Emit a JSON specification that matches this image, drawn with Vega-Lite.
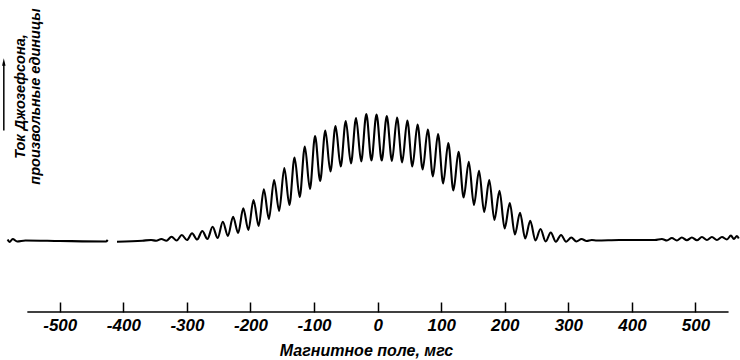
{
  "$schema": "https://vega.github.io/schema/vega-lite/v6.json",
  "width": 740,
  "height": 312,
  "autosize": {"type": "none"},
  "padding": {"left": 0, "top": 0, "right": 0, "bottom": 48},
  "background": "white",
  "config": {"view": {"stroke": null}},
  "data": {"values": [
    {"B": -582, "I": 0.1, "seg": "a"}, {"B": -579, "I": -0.15, "seg": "a"}, {"B": -574, "I": 0.15, "seg": "a"}, {"B": -567, "I": -0.1, "seg": "a"},
    {"B": -554, "I": 0, "seg": "a"}, {"B": -500, "I": -0.05, "seg": "a"}, {"B": -427.5, "I": -0.1, "seg": "a"}, {"B": -424.5, "I": 0.05, "seg": "a"},
    {"B": -410, "I": -0.12, "seg": "b"}, {"B": -370, "I": -0.02, "seg": "b"}, {"B": -356.3, "I": 0.05, "seg": "b"}, {"B": -348.3, "I": -0.02, "seg": "b"},
    {"B": -340.2, "I": 0.15, "seg": "b"}, {"B": -332.2, "I": -0.02, "seg": "b"}, {"B": -324.2, "I": 0.38, "seg": "b"}, {"B": -316.1, "I": 0, "seg": "b"},
    {"B": -308.0, "I": 0.55, "seg": "b"}, {"B": -300.0, "I": 0.05, "seg": "b"}, {"B": -291.9, "I": 0.72, "seg": "b"}, {"B": -283.9, "I": 0.1, "seg": "b"},
    {"B": -275.8, "I": 0.95, "seg": "b"}, {"B": -267.7, "I": 0.15, "seg": "b"}, {"B": -259.6, "I": 1.38, "seg": "b"}, {"B": -251.6, "I": 0.25, "seg": "b"},
    {"B": -243.5, "I": 1.88, "seg": "b"}, {"B": -235.5, "I": 0.45, "seg": "b"}, {"B": -227.4, "I": 2.38, "seg": "b"}, {"B": -219.4, "I": 0.75, "seg": "b"},
    {"B": -211.3, "I": 3.22, "seg": "b"}, {"B": -203.3, "I": 1.05, "seg": "b"}, {"B": -195.2, "I": 4.05, "seg": "b"}, {"B": -187.1, "I": 1.45, "seg": "b"},
    {"B": -179.0, "I": 5.12, "seg": "b"}, {"B": -171.0, "I": 2.15, "seg": "b"}, {"B": -162.9, "I": 6.05, "seg": "b"}, {"B": -154.9, "I": 2.95, "seg": "b"},
    {"B": -146.8, "I": 7.25, "seg": "b"}, {"B": -138.8, "I": 3.55, "seg": "b"}, {"B": -130.7, "I": 8.3, "seg": "b"}, {"B": -122.6, "I": 4.35, "seg": "b"},
    {"B": -114.5, "I": 9.4, "seg": "b"}, {"B": -106.5, "I": 5.15, "seg": "b"}, {"B": -98.4, "I": 10.45, "seg": "b"}, {"B": -90.4, "I": 5.95, "seg": "b"},
    {"B": -82.3, "I": 11.0, "seg": "b"}, {"B": -74.3, "I": 6.9, "seg": "b"}, {"B": -66.2, "I": 11.45, "seg": "b"}, {"B": -58.1, "I": 7.4, "seg": "b"},
    {"B": -50.1, "I": 11.95, "seg": "b"}, {"B": -42.0, "I": 7.7, "seg": "b"}, {"B": -33.9, "I": 12.25, "seg": "b"}, {"B": -25.9, "I": 7.9, "seg": "b"},
    {"B": -17.8, "I": 12.65, "seg": "b"}, {"B": -9.8, "I": 8.0, "seg": "b"}, {"B": -1.7, "I": 12.6, "seg": "b"}, {"B": 6.4, "I": 8.0, "seg": "b"},
    {"B": 14.4, "I": 12.45, "seg": "b"}, {"B": 22.5, "I": 7.95, "seg": "b"}, {"B": 30.5, "I": 12.3, "seg": "b"}, {"B": 38.6, "I": 7.8, "seg": "b"},
    {"B": 46.7, "I": 12.0, "seg": "b"}, {"B": 54.7, "I": 7.4, "seg": "b"}, {"B": 62.8, "I": 11.6, "seg": "b"}, {"B": 70.9, "I": 7.1, "seg": "b"},
    {"B": 78.9, "I": 11.1, "seg": "b"}, {"B": 87.0, "I": 6.4, "seg": "b"}, {"B": 95.0, "I": 10.65, "seg": "b"}, {"B": 103.1, "I": 5.7, "seg": "b"},
    {"B": 111.1, "I": 9.75, "seg": "b"}, {"B": 119.2, "I": 5.0, "seg": "b"}, {"B": 127.3, "I": 8.88, "seg": "b"}, {"B": 135.3, "I": 4.3, "seg": "b"},
    {"B": 143.4, "I": 7.88, "seg": "b"}, {"B": 151.5, "I": 3.55, "seg": "b"}, {"B": 159.5, "I": 6.98, "seg": "b"}, {"B": 167.6, "I": 2.85, "seg": "b"},
    {"B": 175.6, "I": 6.05, "seg": "b"}, {"B": 183.7, "I": 2.05, "seg": "b"}, {"B": 191.7, "I": 4.98, "seg": "b"}, {"B": 199.8, "I": 1.2, "seg": "b"},
    {"B": 207.9, "I": 3.75, "seg": "b"}, {"B": 215.9, "I": 0.6, "seg": "b"}, {"B": 224.0, "I": 2.78, "seg": "b"}, {"B": 232.1, "I": 0.2, "seg": "b"},
    {"B": 240.1, "I": 1.98, "seg": "b"}, {"B": 248.2, "I": 0.0, "seg": "b"}, {"B": 256.2, "I": 1.15, "seg": "b"}, {"B": 264.3, "I": -0.1, "seg": "b"},
    {"B": 272.3, "I": 0.8, "seg": "b"}, {"B": 280.4, "I": -0.12, "seg": "b"}, {"B": 288.5, "I": 0.55, "seg": "b"}, {"B": 296.5, "I": -0.12, "seg": "b"},
    {"B": 304.6, "I": 0.3, "seg": "b"}, {"B": 312.7, "I": -0.1, "seg": "b"}, {"B": 320.7, "I": 0.15, "seg": "b"}, {"B": 328.8, "I": -0.05, "seg": "b"},
    {"B": 336.8, "I": 0.05, "seg": "b"}, {"B": 345, "I": 0, "seg": "b"}, {"B": 380, "I": 0.05, "seg": "b"}, {"B": 428.3, "I": 0.05, "seg": "b"},
    {"B": 436.1, "I": 0.05, "seg": "b"}, {"B": 447.1, "I": 0.15, "seg": "b"}, {"B": 455, "I": 0, "seg": "b"}, {"B": 462.8, "I": 0.25, "seg": "b"},
    {"B": 470.7, "I": 0, "seg": "b"}, {"B": 478.5, "I": 0.3, "seg": "b"}, {"B": 486.4, "I": 0.02, "seg": "b"}, {"B": 494.3, "I": 0.3, "seg": "b"},
    {"B": 502.2, "I": 0.02, "seg": "b"}, {"B": 510.1, "I": 0.35, "seg": "b"}, {"B": 518, "I": 0.05, "seg": "b"}, {"B": 525.8, "I": 0.35, "seg": "b"},
    {"B": 533.7, "I": 0.05, "seg": "b"}, {"B": 541.6, "I": 0.35, "seg": "b"}, {"B": 549.4, "I": 0.1, "seg": "b"}, {"B": 555.7, "I": 0.5, "seg": "b"},
    {"B": 560.4, "I": 0.15, "seg": "b"}, {"B": 565.1, "I": 0.45, "seg": "b"}, {"B": 568, "I": 0.2, "seg": "b"}
  ]},
  "layer": [
    {
      "mark": {"type": "line", "interpolate": "monotone", "color": "black", "strokeWidth": 2.1},
      "encoding": {
        "x": {
          "field": "B", "type": "quantitative",
          "scale": {"domain": [-594, 570], "nice": false, "zero": false},
          "axis": {
            "orient": "bottom", "domain": false, "grid": false,
            "values": [-500, -400, -300, -200, -100, 0, 100, 200, 300, 400, 500],
            "tickSize": -10, "tickWidth": 1.5, "tickColor": "black",
            "labelPadding": 15,
            "labelExpr": "datum.value < 0 ? '-' + (-datum.value) : '' + datum.value",
            "labelFont": "Liberation Sans Narrow, Liberation Sans, sans-serif", "labelFontSize": 17, "labelFontStyle": "italic", "labelFontWeight": "bold", "labelColor": "black",
            "title": "Магнитное поле, мгс",
            "titleFont": "Liberation Sans, sans-serif", "titleFontSize": 16, "titleFontStyle": "italic", "titleFontWeight": "bold", "titleColor": "black",
            "titleX": 366, "titleY": 38, "titleAlign": "center", "titleBaseline": "middle"
          }
        },
        "y": {
          "field": "I", "type": "quantitative",
          "scale": {"domain": [-7.15, 24.05], "nice": false, "zero": false},
          "axis": {
            "domain": false, "ticks": false, "labels": false, "grid": false,
            "title": ["Ток Джозефсона,", "произвольные единицы"],
            "titleX": 20, "titleY": 96, "titleAngle": -90, "titleAlign": "center", "titleBaseline": "middle",
            "titleFont": "Liberation Sans, sans-serif", "titleFontSize": 14.5, "titleFontStyle": "italic", "titleFontWeight": "bold", "titleColor": "black", "titleLineHeight": 15
          }
        },
        "detail": {"field": "seg"}
      }
    },
    {
      "data": {"values": [{}]},
      "mark": {"type": "rule", "color": "black", "strokeWidth": 1.5},
      "encoding": {"x": {"datum": -551}, "x2": {"datum": 552}, "y": {"datum": -7.15}}
    },
    {
      "data": {"values": [{}]},
      "mark": {"type": "rule", "color": "black", "strokeWidth": 1.5},
      "encoding": {"x": {"datum": -588}, "y": {"datum": 11.0}, "y2": {"datum": 17.6}}
    },
    {
      "data": {"values": [{}]},
      "mark": {"type": "point", "shape": "M0,-1L0.45,1L-0.45,1Z", "filled": true, "color": "black", "size": 60, "opacity": 1},
      "encoding": {"x": {"datum": -588}, "y": {"datum": 17.85}}
    }
  ]
}
